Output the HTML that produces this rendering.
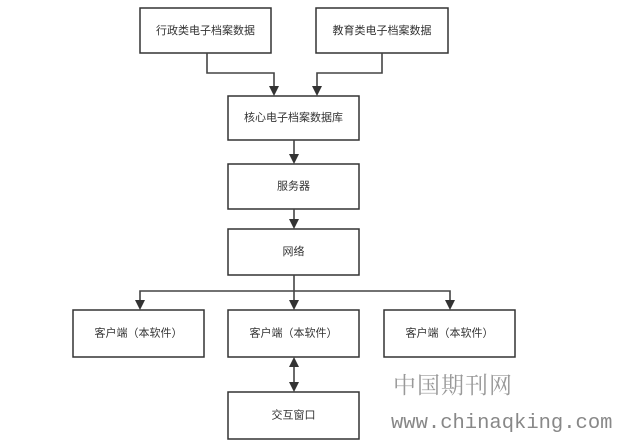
<!DOCTYPE html>
<html><head><meta charset="utf-8"><style>
html,body{margin:0;padding:0;background:#fff;width:619px;height:442px;overflow:hidden}
svg{display:block}
.b{fill:#fff;stroke:#333;stroke-width:1.5}
.l{stroke:#444;stroke-width:1.6;fill:none}
.t{font-family:"Liberation Sans","Noto Sans CJK SC",sans-serif;font-size:11px;fill:#333;text-anchor:middle;dominant-baseline:central}
.a{fill:#333}
</style></head><body>
<svg width="619" height="442" viewBox="0 0 619 442" xmlns="http://www.w3.org/2000/svg">
<rect class="b" x="140" y="8" width="131" height="45"/><text class="t" x="205.5" y="31">行政类电子档案数据</text>
<rect class="b" x="316" y="8" width="132" height="45"/><text class="t" x="382" y="31">教育类电子档案数据</text>
<polyline class="l" points="207,53 207,73 274,73 274,88"/><polygon class="a" points="269,86 279,86 274,96"/>
<polyline class="l" points="382,53 382,73 317,73 317,88"/><polygon class="a" points="312,86 322,86 317,96"/>
<rect class="b" x="228" y="96" width="131" height="44"/><text class="t" x="293.5" y="118">核心电子档案数据库</text>
<line class="l" x1="294" y1="140" x2="294" y2="156"/><polygon class="a" points="289,154 299,154 294,164"/>
<rect class="b" x="228" y="164" width="131" height="45"/><text class="t" x="293.5" y="186.5">服务器</text>
<line class="l" x1="294" y1="209" x2="294" y2="221"/><polygon class="a" points="289,219 299,219 294,229"/>
<rect class="b" x="228" y="229" width="131" height="46"/><text class="t" x="293.5" y="252">网络</text>
<line class="l" x1="294" y1="275" x2="294" y2="302"/><polygon class="a" points="289,300 299,300 294,310"/>
<polyline class="l" points="140,302 140,291 450,291 450,302"/>
<polygon class="a" points="135,300 145,300 140,310"/><polygon class="a" points="445,300 455,300 450,310"/>
<rect class="b" x="73" y="310" width="131" height="47"/><text class="t" x="138.5" y="333.5">客户端（本软件）</text>
<rect class="b" x="228" y="310" width="131" height="47"/><text class="t" x="293.5" y="333.5">客户端（本软件）</text>
<rect class="b" x="384" y="310" width="131" height="47"/><text class="t" x="449.5" y="333.5">客户端（本软件）</text>
<line class="l" x1="294" y1="365" x2="294" y2="384"/>
<polygon class="a" points="289,367 299,367 294,357"/><polygon class="a" points="289,382 299,382 294,392"/>
<rect class="b" x="228" y="392" width="131" height="47"/><text class="t" x="293.5" y="415.5">交互窗口</text>
<text x="393" y="393" style="font-family:'Noto Serif CJK SC',serif;font-size:23px;fill:#999;letter-spacing:1px">中国期刊网</text>
<text x="391" y="428" style="font-family:'Liberation Mono',monospace;font-size:20.5px;fill:#888">www.chinaqking.com</text>
</svg>
</body></html>
